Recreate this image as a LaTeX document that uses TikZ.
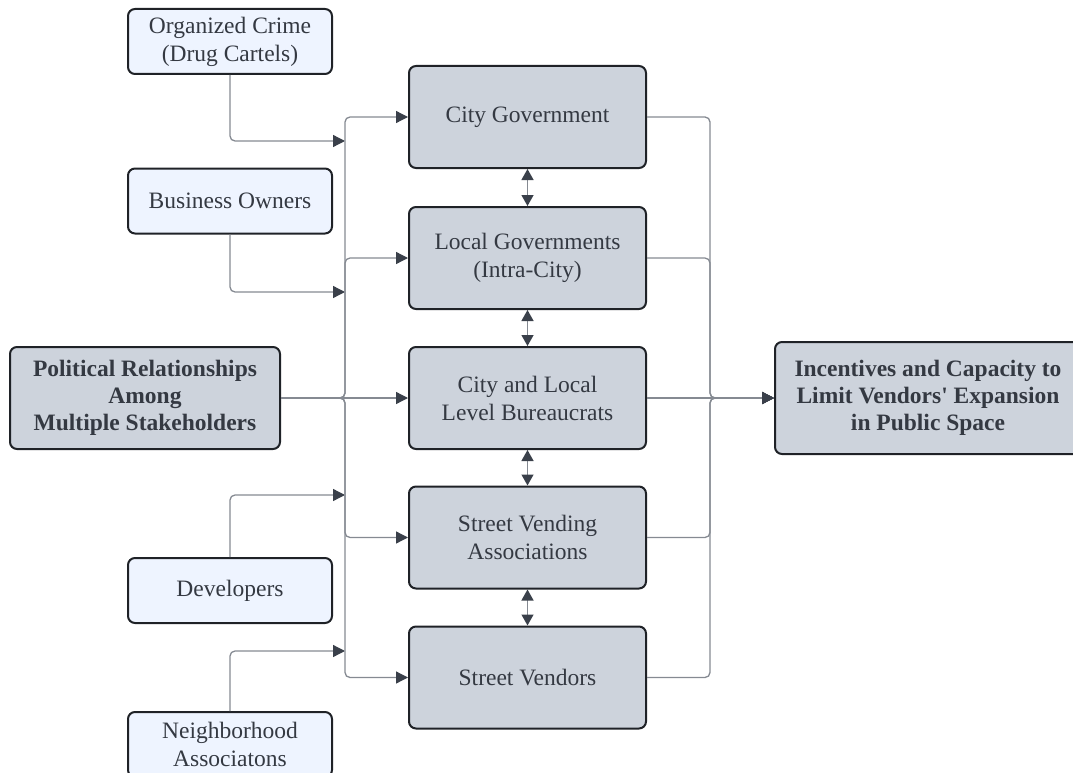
\documentclass[tikz,border=0pt]{standalone}
\usepackage{fontspec}
\setmainfont{Liberation Serif}[Ligatures=TeXOff]
\usetikzlibrary{arrows.meta}
\definecolor{ink}{HTML}{343942}
\definecolor{edge}{HTML}{1F2227}
\definecolor{wire}{HTML}{858A92}
\definecolor{tipc}{HTML}{3A404A}
\definecolor{paleblue}{HTML}{EEF4FF}
\definecolor{slate}{HTML}{CDD3DC}

\begin{document}
\begin{tikzpicture}[x=1pt,y=-1pt,
  box/.style={draw=edge,line width=2pt,rounded corners=7pt,text=ink,align=center,
    inner sep=0pt,font=\fontsize{23.5}{28}\selectfont},
  actor/.style={box,fill=paleblue,minimum width=204pt,minimum height=65pt},
  level/.style={box,fill=slate,minimum width=237pt,minimum height=102pt},
  keybox/.style={box,fill=slate,font=\fontsize{23.5}{27}\selectfont\bfseries},
  link/.style={draw=wire,line width=1.3pt,rounded corners=5pt,-{Triangle[length=12pt,width=12pt,color=tipc]}},
  both/.style={draw=wire,line width=1.3pt,
    {Triangle[length=11pt,width=12pt,color=tipc]}-{Triangle[length=11pt,width=12pt,color=tipc]}}]
\useasboundingbox (0,0) rectangle (1073,773);
\clip (0,0) rectangle (1073,773);

% stakeholders on the left
\node[actor] (crime) at (230,41.5) {Organized Crime\\(Drug Cartels)};
\node[actor] (owners) at (230,201) {Business Owners};
\node[actor] (devs) at (230,590.5) {Developers};
\node[actor] (hood) at (230,744.5) {Neighborhood\\Associatons};
\node[keybox,minimum width=270pt,minimum height=102pt] (pol) at (145,398)
  {Political Relationships\\Among\\Multiple Stakeholders};

% levels in the middle
\node[level] (citygov) at (527.5,117) {City Government};
\node[level] (localgov) at (527.5,258) {Local Governments\\(Intra-City)};
\node[level] (bureau) at (527.5,398) {City and Local\\Level Bureaucrats};
\node[level] (assoc) at (527.5,537.5) {Street Vending\\Associations};
\node[level] (vendors) at (527.5,677.5) {Street Vendors};

% outcome
\node[keybox,minimum width=306pt,minimum height=112pt] (limit) at (928,398)
  {Incentives and Capacity to\\Limit Vendors' Expansion\\in Public Space};

\coordinate (bus) at (345,398);
\coordinate (join) at (710,398);
\coordinate (in1) at (345,141);
\coordinate (in2) at (345,292);
\coordinate (in3) at (345,495);
\coordinate (in4) at (345,651);

% into the bus
\draw[link] (crime.south) |- (in1);
\draw[link] (owners.south) |- (in2);
\draw[link] (devs.north) |- (in3);
\draw[link] (hood.north) |- (in4);

% bus to levels
\draw[link] (pol.east) -- (bus) |- (citygov.west);
\draw[link] (pol.east) -- (bus) |- (localgov.west);
\draw[link] (pol.east) -- (bureau.west);
\draw[link] (pol.east) -- (bus) |- (assoc.west);
\draw[link] (pol.east) -- (bus) |- (vendors.west);

% levels to outcome
\draw[link] (citygov.east) -| (join) -- (limit.west);
\draw[link] (localgov.east) -| (join) -- (limit.west);
\draw[link] (bureau.east) -- (limit.west);
\draw[link] (assoc.east) -| (join) -- (limit.west);
\draw[link] (vendors.east) -| (join) -- (limit.west);

% between levels
\draw[both] (citygov.south) -- (localgov.north);
\draw[both] (localgov.south) -- (bureau.north);
\draw[both] (bureau.south) -- (assoc.north);
\draw[both] (assoc.south) -- (vendors.north);
\end{tikzpicture}
\end{document}
